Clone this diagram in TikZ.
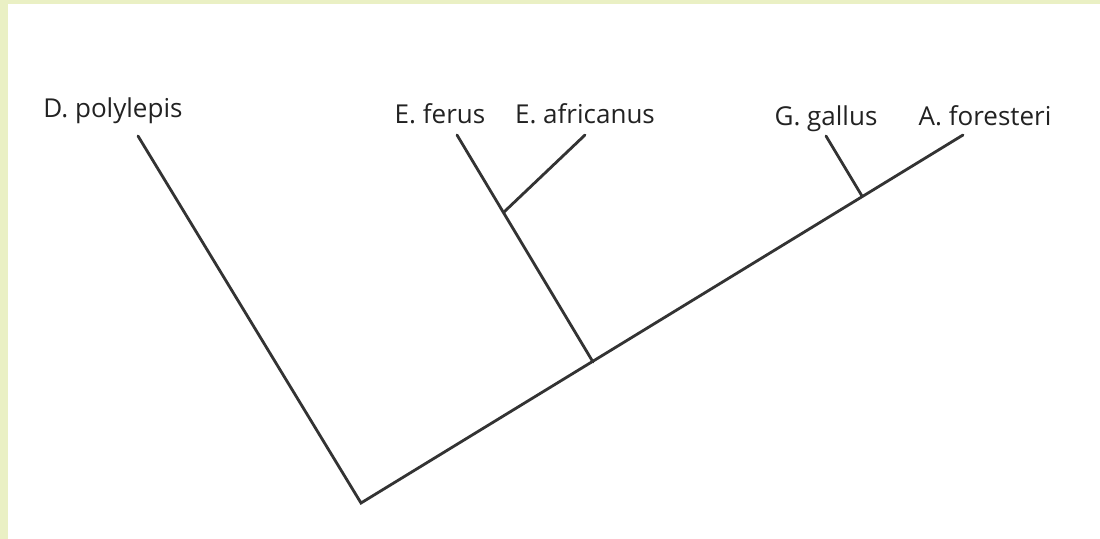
\documentclass[tikz,border=0pt]{standalone}
\usepackage{fontspec}
\setmainfont{Open Sans}
\usetikzlibrary{positioning}
\definecolor{Frame}{HTML}{EAF0C4}
\definecolor{Ink}{HTML}{222222}
\definecolor{Branch}{HTML}{333333}
\tikzset{
  taxon/.style={font=\fontsize{18.5}{22}\selectfont,text=Ink,inner sep=0pt,anchor=base},
  branch/.style={draw=Branch,line width=2pt,line cap=round,line join=miter}
}

\begin{document}
\begin{tikzpicture}[x=0.025cm,y=-0.025cm]
  \fill[Frame] (0,0) rectangle (1100,539);
  \fill[white] (8,4) rectangle (1100,539);
  \useasboundingbox (0,0) rectangle (1100,539);
  % branch points
  \coordinate (root) at (361,503);
  \coordinate (nE) at (593,362);
  \coordinate (nEaf) at (504,212);
  \coordinate (nGA) at (862,196);
  % tips
  \coordinate (dpoly) at (138,136);
  \coordinate (efer) at (457,135);
  \coordinate (eafr) at (585,135);
  \coordinate (ggal) at (826,136);
  \coordinate (afor) at (963,135);
  % labels
  \node[taxon] (dpolyL) at (113,117) {D. polylepis};
  \node[taxon] (eferL) at (440,123) {E. ferus};
  \node[taxon] (eafrL) at (585,123) {E. africanus};
  \node[taxon] (ggalL) at (826,125) {G. gallus};
  \node[taxon] (aforL) at (985,125) {A. foresteri};
  % tree
  \draw[branch] (dpoly) -- (root) -- (afor);
  \draw[branch] (nE) -- (efer);
  \draw[branch] (nEaf) -- (eafr);
  \draw[branch] (nGA) -- (ggal);
\end{tikzpicture}
\end{document}
